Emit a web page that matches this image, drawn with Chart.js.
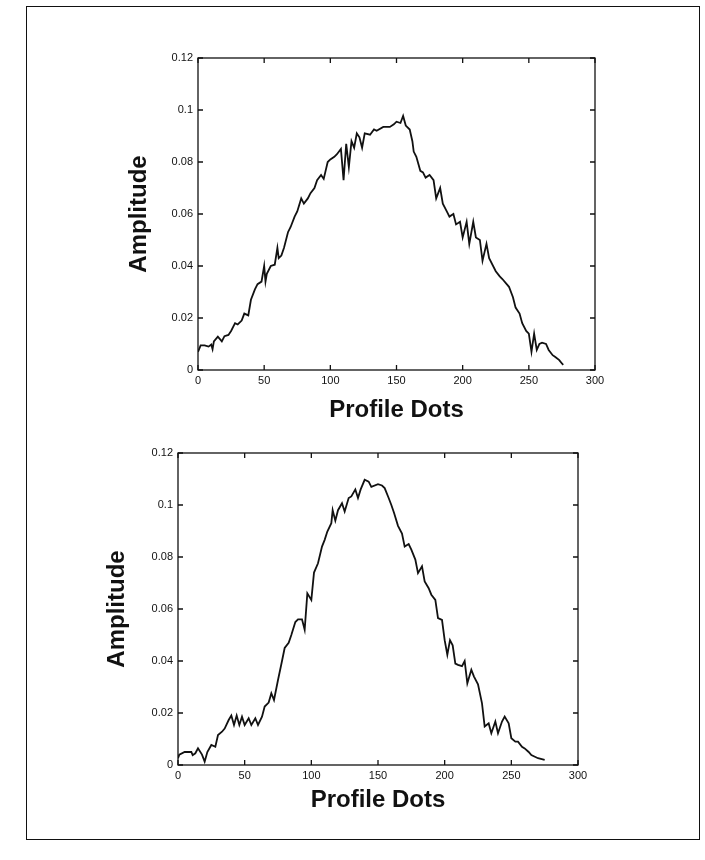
<!DOCTYPE html>
<html>
<head>
<meta charset="utf-8">
<script src="https://cdn.jsdelivr.net/npm/chart.js@4.4.1/dist/chart.umd.min.js"></script>
<style>
  html, body { margin:0; padding:0; background:#fff; }
  body { width:705px; height:860px; position:relative; overflow:hidden; }
  #frame { position:absolute; left:26px; top:6px; width:672px; height:832px; border:1.5px solid #111; }
  canvas { position:absolute; }
  #c1 { left:100px; top:40px; }
  #c2 { left:80px; top:435px; }
</style>
</head>
<body>
<div id="frame"></div>
<canvas id="c1" width="520" height="400"></canvas>
<canvas id="c2" width="520" height="400"></canvas>
<script>
// ---- data ----
const xTickLabels = ["0","50","100","150","200","250","300"];
const yTickLabels = ["0","0.02","0.04","0.06","0.08","0.1","0.12"];
const xTitle = "Profile Dots";
const yTitle = "Amplitude";

const topX = [0,2,5,8,10,11,12,15,18,20,23,25,28,30,33,35,38,40,43,45,48,50,51,52,55,58,60,61,63,65,68,70,73,75,78,80,83,85,88,90,93,95,98,100,103,105,108,110,112,114,116,118,120,122,124,126,130,133,135,140,145,148,150,153,155,157,160,162,163,165,168,170,172,175,178,180,183,185,188,190,193,195,198,200,203,205,208,210,213,215,218,220,225,228,230,235,238,240,243,245,248,250,252,254,256,258,260,263,265,268,270,273,275,276];
const topY = [0.007,0.0095,0.0095,0.009,0.0098,0.008,0.011,0.0128,0.011,0.013,0.0135,0.015,0.018,0.0175,0.019,0.0217,0.021,0.027,0.031,0.033,0.034,0.040,0.034,0.037,0.040,0.0405,0.047,0.043,0.044,0.047,0.053,0.055,0.059,0.061,0.066,0.064,0.066,0.068,0.070,0.073,0.075,0.0735,0.080,0.081,0.082,0.083,0.085,0.073,0.087,0.078,0.088,0.0855,0.091,0.0895,0.0855,0.091,0.0905,0.0925,0.092,0.0935,0.0935,0.0945,0.0955,0.095,0.0977,0.094,0.0925,0.088,0.084,0.082,0.0766,0.076,0.074,0.075,0.073,0.066,0.070,0.064,0.061,0.059,0.060,0.056,0.057,0.051,0.057,0.0485,0.057,0.051,0.050,0.042,0.0485,0.043,0.038,0.036,0.035,0.032,0.028,0.024,0.0217,0.018,0.015,0.014,0.007,0.014,0.0077,0.010,0.0105,0.010,0.0077,0.0057,0.005,0.0038,0.0025,0.002];

const botX = [0,1,5,10,11,13,15,18,20,22,25,28,30,33,35,38,40,42,44,46,48,50,53,55,58,60,63,65,68,70,72,75,78,80,83,85,88,90,93,95,97,100,102,105,108,110,112,115,116,118,120,123,125,128,130,133,135,137,140,143,145,150,153,155,158,160,162,165,168,170,173,175,178,180,183,185,188,190,193,195,198,200,202,204,206,208,210,213,215,217,220,222,225,228,230,233,235,238,240,243,245,248,250,253,255,258,260,263,265,270,275];
const botY = [0.0026,0.004,0.005,0.005,0.0038,0.0045,0.0064,0.004,0.0013,0.005,0.0077,0.007,0.0115,0.0128,0.014,0.0173,0.019,0.0154,0.019,0.0154,0.0186,0.0154,0.018,0.0154,0.018,0.0154,0.0186,0.0225,0.024,0.0276,0.025,0.0327,0.040,0.045,0.047,0.050,0.055,0.056,0.056,0.052,0.066,0.0635,0.074,0.0776,0.084,0.0866,0.0898,0.093,0.098,0.094,0.098,0.1007,0.0975,0.1027,0.1033,0.106,0.1027,0.106,0.1097,0.109,0.107,0.108,0.1075,0.1065,0.1027,0.100,0.097,0.092,0.089,0.084,0.085,0.0828,0.079,0.0738,0.0764,0.0706,0.068,0.0655,0.0635,0.0565,0.0558,0.048,0.0424,0.048,0.046,0.039,0.0385,0.038,0.040,0.0314,0.0366,0.034,0.031,0.0237,0.0148,0.016,0.0122,0.0167,0.0122,0.0167,0.0186,0.016,0.0103,0.009,0.009,0.007,0.0064,0.005,0.0038,0.0026,0.002];

// ---- styling ----
const sans = "'Liberation Sans', Arial, sans-serif";

const matlabBox = {
  id: 'matlabBox',
  afterDraw(chart) {
    const {ctx, chartArea: a, scales: {x, y}} = chart;
    ctx.save();
    ctx.strokeStyle = '#111';
    ctx.lineWidth = 1.3;
    ctx.strokeRect(a.left, a.top, a.right - a.left, a.bottom - a.top);
    const L = 5;
    ctx.beginPath();
    x.ticks.forEach(t => {
      const px = x.getPixelForValue(t.value);
      ctx.moveTo(px, a.bottom); ctx.lineTo(px, a.bottom - L);
      ctx.moveTo(px, a.top); ctx.lineTo(px, a.top + L);
    });
    y.ticks.forEach(t => {
      const py = y.getPixelForValue(t.value);
      ctx.moveTo(a.left, py); ctx.lineTo(a.left + L, py);
      ctx.moveTo(a.right, py); ctx.lineTo(a.right - L, py);
    });
    ctx.stroke();
    ctx.restore();
  }
};

function makeChart(id, xs, ys, opt) {
  const pts = xs.map((v, i) => ({x: v, y: ys[i]}));
  return new Chart(document.getElementById(id), {
    type: 'line',
    data: { datasets: [{ data: pts, borderColor: '#111', borderWidth: 1.8, pointRadius: 0, tension: 0, fill: false }] },
    options: {
      responsive: false,
      animation: false,
      devicePixelRatio: 1,
      layout: { padding: { top: 18, right: opt.right, bottom: 0, left: 0 } },
      plugins: { legend: { display: false }, tooltip: { enabled: false } },
      scales: {
        x: {
          type: 'linear', min: 0, max: 300,
          grid: { display: false, drawTicks: false },
          border: { display: false },
          ticks: { stepSize: 50, padding: 4, color: '#111', font: { family: sans, size: 11 },
                   callback: (v, i) => xTickLabels[i] },
          title: { display: true, text: xTitle, color: '#111',
                   font: { family: sans, size: 24, weight: 'bold' }, padding: { bottom: opt.xTitlePad, top: 0 } },
          afterFit: s => { s.height = 70; }
        },
        y: {
          type: 'linear', min: 0, max: 0.12,
          grid: { display: false, drawTicks: false },
          border: { display: false },
          ticks: { stepSize: 0.02, padding: 5, color: '#111', font: { family: sans, size: 11 },
                   callback: (v, i) => yTickLabels[i] },
          title: { display: true, text: yTitle, color: '#111',
                   font: { family: sans, size: 24, weight: 'bold' }, padding: { top: opt.yTitlePad, bottom: 0 } },
          afterFit: s => { s.width = 98; }
        }
      }
    },
    plugins: [matlabBox]
  });
}

makeChart('c1', topX, topY, { right: 25, xTitlePad: 15, yTitlePad: 25 });
makeChart('c2', botX, botY, { right: 22, xTitlePad: 20, yTitlePad: 23 });
</script>
</body>
</html>
